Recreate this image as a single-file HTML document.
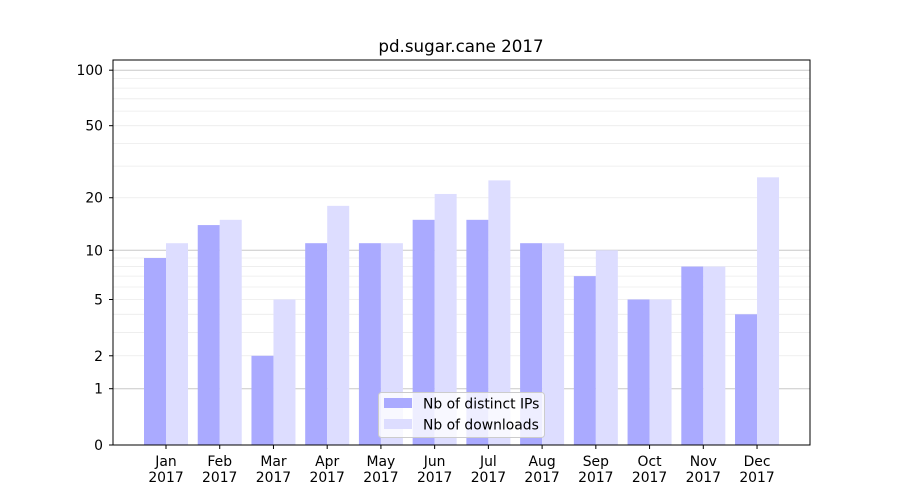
<!DOCTYPE html>
<html><head><meta charset="utf-8"><style>body{margin:0;background:#fff}svg{display:block}text{font-family:"DejaVu Sans",sans-serif;fill:#000}</style></head>
<body>
<svg id="s" width="900" height="500" xmlns="http://www.w3.org/2000/svg"></svg>
<script>
const s=document.getElementById('s');
const Y=v=>445-187*Math.log10(1+v);
let h='';
for(let d of [1,10]){for(let k=2;k<=9;k++){let y=Y(k*d);h+=`<line x1="113" x2="810" y1="${y}" y2="${y}" stroke="#ebebeb" stroke-width="0.8"/>`;}}
for(let v of [1,10,100]){let y=Y(v);h+=`<line x1="113" x2="810" y1="${y}" y2="${y}" stroke="#c8c8c8" stroke-width="1"/>`;}
const ip=[9,14,2,11,11,15,15,11,7,5,8,4],dl=[11,15,5,18,11,21,25,11,10,5,8,26];
const m=['Jan','Feb','Mar','Apr','May','Jun','Jul','Aug','Sep','Oct','Nov','Dec'];
for(let i=0;i<12;i++){let c=166+i*53.73;
h+=`<rect x="${c-22}" y="${Y(ip[i])}" width="22" height="${445-Y(ip[i])}" fill="#aaaaff"/>`;
h+=`<rect x="${c}" y="${Y(dl[i])}" width="22" height="${445-Y(dl[i])}" fill="#ddddff"/>`;
h+=`<line x1="${c}" x2="${c}" y1="445" y2="449" stroke="#000"/>`;
h+=`<text x="${c}" y="466" font-size="13.9" text-anchor="middle">${m[i]}</text><text x="${c}" y="482" font-size="13.9" text-anchor="middle">2017</text>`;}
for(let v of [0,1,2,5,10,20,50,100]){let y=Y(v);h+=`<line x1="109" x2="113" y1="${y}" y2="${y}" stroke="#000"/><text x="103" y="${y+5}" font-size="13.9" text-anchor="end">${v}</text>`;}
h+=`<rect x="113" y="60" width="697" height="385" fill="none" stroke="#000"/>`;
h+=`<text x="461" y="52" font-size="16.7" text-anchor="middle">pd.sugar.cane 2017</text>`;
h+=`<rect x="378.5" y="392.5" width="166" height="45" rx="3" fill="#fff" fill-opacity="0.8" stroke="#ccc"/>`;
h+=`<rect x="384" y="398" width="28" height="10" fill="#aaaaff"/><text x="423" y="408.5" font-size="13.9">Nb of distinct IPs</text>`;
h+=`<rect x="384" y="419" width="28" height="10" fill="#ddddff"/><text x="423" y="429.5" font-size="13.9">Nb of downloads</text>`;
s.innerHTML=h;
</script>
</body></html>
